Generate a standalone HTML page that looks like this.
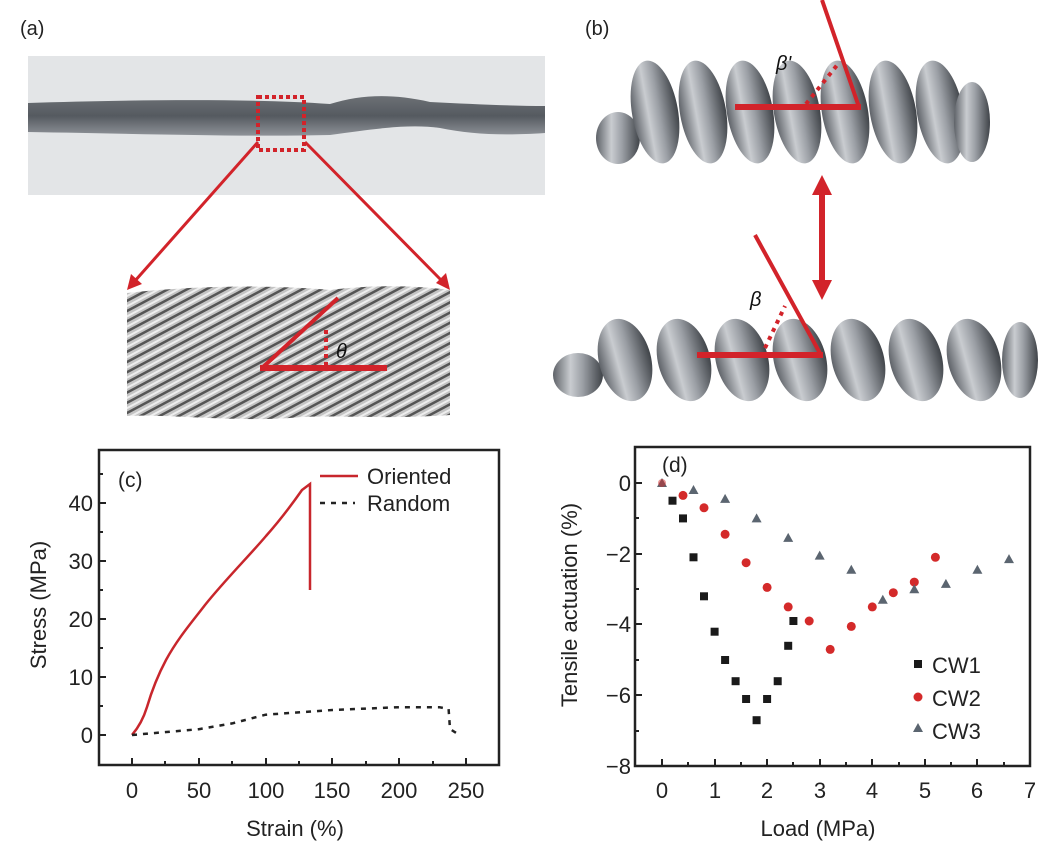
<!DOCTYPE html>
<html><head><meta charset="utf-8"><style>
html,body{margin:0;padding:0;background:#fff;}
svg{display:block;font-family:"Liberation Sans",Arial,sans-serif;}
</style></head><body>
<svg width="1050" height="858" viewBox="0 0 1050 858" xmlns="http://www.w3.org/2000/svg">
<defs>
<pattern id="fib" width="9" height="9" patternUnits="userSpaceOnUse" patternTransform="rotate(-28)">
<rect width="9" height="9" fill="#c4c4c4"/>
<rect width="9" height="2.5" fill="#555"/>
<rect y="5" width="9" height="2" fill="#eeeeee"/>
</pattern>
<linearGradient id="coil" x1="0" x2="1" y1="0" y2="0">
<stop offset="0" stop-color="#5e6268"/><stop offset="0.35" stop-color="#c9ccd0"/><stop offset="0.6" stop-color="#9a9ea4"/><stop offset="1" stop-color="#3f4348"/>
</linearGradient>
<linearGradient id="rope" x1="0" x2="0" y1="0" y2="1">
<stop offset="0" stop-color="#6c7075"/><stop offset="0.5" stop-color="#555a60"/><stop offset="1" stop-color="#8e9298"/>
</linearGradient>
<path id="tri" d="M0,-5 L5,4 L-5,4 Z" fill="#5b6570"/>
</defs>

<!-- (a) -->
<text x="20" y="35" font-size="20" fill="#222">(a)</text>
<rect x="28" y="56" width="517" height="139" fill="#e3e5e7"/>
<path d="M28,103 C120,100 250,98 330,104 C360,95 390,93 430,102 C470,104 510,106 545,106 L545,133 C500,136 470,134 440,128 C410,124 380,128 330,135 C250,137 150,134 28,132 Z" fill="url(#rope)"/>
<rect x="258" y="97" width="46" height="53" fill="none" stroke="#d2232a" stroke-width="4" stroke-dasharray="4,3"/>
<line x1="258" y1="142" x2="134" y2="282" stroke="#d2232a" stroke-width="3"/>
<polygon points="127,290 131,274 142,284" fill="#d2232a"/>
<line x1="305" y1="142" x2="443" y2="282" stroke="#d2232a" stroke-width="3"/>
<polygon points="450,290 436,283 446,273" fill="#d2232a"/>
<path d="M127,293 C200,285 280,285 330,290 C380,284 420,286 450,290 L450,415 C380,420 330,414 290,418 C230,422 170,414 127,416 Z" fill="url(#fib)"/>
<line x1="260" y1="368" x2="387" y2="368" stroke="#d2232a" stroke-width="6"/>
<line x1="262" y1="368" x2="338" y2="298" stroke="#d2232a" stroke-width="4"/>
<line x1="326" y1="366" x2="326" y2="328" stroke="#d2232a" stroke-width="4" stroke-dasharray="4,4"/>
<text x="336" y="358" font-size="20" font-style="italic" fill="#111">θ</text>

<!-- (b) -->
<text x="585" y="35" font-size="20" fill="#222">(b)</text>
<g>
<ellipse cx="618" cy="138" rx="22" ry="26" fill="url(#coil)"/>
<g fill="url(#coil)">
<ellipse cx="655" cy="112" rx="23" ry="52" transform="rotate(-10 655 112)"/><ellipse cx="703" cy="112" rx="23" ry="52" transform="rotate(-10 703 112)"/>
<ellipse cx="750" cy="112" rx="23" ry="52" transform="rotate(-10 750 112)"/><ellipse cx="797" cy="112" rx="23" ry="52" transform="rotate(-10 797 112)"/>
<ellipse cx="845" cy="112" rx="23" ry="52" transform="rotate(-10 845 112)"/><ellipse cx="893" cy="112" rx="23" ry="52" transform="rotate(-10 893 112)"/>
<ellipse cx="940" cy="112" rx="23" ry="52" transform="rotate(-10 940 112)"/><ellipse cx="972" cy="122" rx="18" ry="40"/>
</g>
</g>
<line x1="735" y1="107" x2="861" y2="107" stroke="#d2232a" stroke-width="6"/>
<line x1="859" y1="107" x2="822" y2="0" stroke="#d2232a" stroke-width="4"/>
<line x1="806" y1="104" x2="838" y2="64" stroke="#d2232a" stroke-width="4" stroke-dasharray="4,5"/>
<text x="776" y="70" font-size="20" font-style="italic" fill="#111">β'</text>
<line x1="822" y1="190" x2="822" y2="285" stroke="#d2232a" stroke-width="6"/>
<polygon points="822,175 812,195 832,195" fill="#d2232a"/>
<polygon points="822,300 812,280 832,280" fill="#d2232a"/>
<g fill="url(#coil)">
<ellipse cx="578" cy="375" rx="25" ry="22"/>
<ellipse cx="625" cy="360" rx="26" ry="42" transform="rotate(-15 625 360)"/><ellipse cx="684" cy="360" rx="26" ry="42" transform="rotate(-15 684 360)"/>
<ellipse cx="742" cy="360" rx="26" ry="42" transform="rotate(-15 742 360)"/><ellipse cx="800" cy="360" rx="26" ry="42" transform="rotate(-15 800 360)"/>
<ellipse cx="858" cy="360" rx="26" ry="42" transform="rotate(-15 858 360)"/><ellipse cx="916" cy="360" rx="26" ry="42" transform="rotate(-15 916 360)"/>
<ellipse cx="974" cy="360" rx="26" ry="42" transform="rotate(-15 974 360)"/><ellipse cx="1020" cy="360" rx="18" ry="38"/>
</g>
<line x1="697" y1="355" x2="823" y2="355" stroke="#d2232a" stroke-width="6"/>
<line x1="821" y1="355" x2="755" y2="235" stroke="#d2232a" stroke-width="4"/>
<line x1="765" y1="348" x2="785" y2="306" stroke="#d2232a" stroke-width="4" stroke-dasharray="4,5"/>
<text x="750" y="306" font-size="20" font-style="italic" fill="#111">β</text>

<!-- (c) -->
<rect x="99" y="450" width="400" height="315" fill="none" stroke="#222" stroke-width="2.5"/>
<g stroke="#222" stroke-width="2">
<line x1="99" y1="735" x2="106" y2="735"/><line x1="99" y1="677" x2="106" y2="677"/><line x1="99" y1="619" x2="106" y2="619"/><line x1="99" y1="561" x2="106" y2="561"/><line x1="99" y1="503" x2="106" y2="503"/>
<line x1="99" y1="706" x2="103" y2="706"/><line x1="99" y1="648" x2="103" y2="648"/><line x1="99" y1="590" x2="103" y2="590"/><line x1="99" y1="532" x2="103" y2="532"/><line x1="99" y1="474" x2="103" y2="474"/>
<line x1="132" y1="765" x2="132" y2="758"/><line x1="199" y1="765" x2="199" y2="758"/><line x1="266" y1="765" x2="266" y2="758"/><line x1="332" y1="765" x2="332" y2="758"/><line x1="399" y1="765" x2="399" y2="758"/><line x1="466" y1="765" x2="466" y2="758"/>
<line x1="165" y1="765" x2="165" y2="761"/><line x1="232" y1="765" x2="232" y2="761"/><line x1="299" y1="765" x2="299" y2="761"/><line x1="366" y1="765" x2="366" y2="761"/><line x1="433" y1="765" x2="433" y2="761"/>
</g>
<g font-size="22" fill="#222" text-anchor="end">
<text x="93" y="743">0</text><text x="93" y="685">10</text><text x="93" y="627">20</text><text x="93" y="569">30</text><text x="93" y="511">40</text>
</g>
<g font-size="22" fill="#222" text-anchor="middle">
<text x="132" y="798">0</text><text x="199" y="798">50</text><text x="266" y="798">100</text><text x="332" y="798">150</text><text x="399" y="798">200</text><text x="466" y="798">250</text>
<text x="295" y="836">Strain (%)</text>
<text transform="translate(46,605) rotate(-90)">Stress (MPa)</text>
</g>
<text x="118" y="487" font-size="21" fill="#222">(c)</text>
<line x1="320" y1="476" x2="358" y2="476" stroke="#c8262c" stroke-width="2.5"/>
<text x="367" y="484" font-size="22" fill="#222">Oriented</text>
<line x1="320" y1="503" x2="355" y2="503" stroke="#222" stroke-width="2.5" stroke-dasharray="5,6"/>
<text x="367" y="511" font-size="22" fill="#222">Random</text>
<path d="M132,735 C138,728 143,720 147,707 C152,690 158,675 166,660 C178,638 192,622 205,605 C225,580 250,555 266,536 C282,518 295,500 302,490 L310,484 L310,590" fill="none" stroke="#c8262c" stroke-width="2.5"/>
<polyline points="132,735 198.8,729.2 232.2,723.4 265.6,714.7 332.4,710 399.2,707.2 439.3,707.2 448.6,709 450,729 459.3,735" fill="none" stroke="#222" stroke-width="2.5" stroke-dasharray="5,6"/>

<!-- (d) -->
<rect x="635" y="447" width="395" height="319" fill="none" stroke="#222" stroke-width="2.5"/>
<g stroke="#222" stroke-width="2">
<line x1="635" y1="483" x2="642" y2="483"/><line x1="635" y1="554" x2="642" y2="554"/><line x1="635" y1="624" x2="642" y2="624"/><line x1="635" y1="695" x2="642" y2="695"/>
<line x1="635" y1="518" x2="639" y2="518"/><line x1="635" y1="589" x2="639" y2="589"/><line x1="635" y1="660" x2="639" y2="660"/><line x1="635" y1="731" x2="639" y2="731"/>
<line x1="662" y1="766" x2="662" y2="759"/><line x1="715" y1="766" x2="715" y2="759"/><line x1="767" y1="766" x2="767" y2="759"/><line x1="820" y1="766" x2="820" y2="759"/><line x1="872" y1="766" x2="872" y2="759"/><line x1="925" y1="766" x2="925" y2="759"/><line x1="977" y1="766" x2="977" y2="759"/>
<line x1="688" y1="766" x2="688" y2="762"/><line x1="741" y1="766" x2="741" y2="762"/><line x1="793" y1="766" x2="793" y2="762"/><line x1="846" y1="766" x2="846" y2="762"/><line x1="899" y1="766" x2="899" y2="762"/><line x1="951" y1="766" x2="951" y2="762"/><line x1="1004" y1="766" x2="1004" y2="762"/>
</g>
<g font-size="22" fill="#222" text-anchor="end">
<text x="631" y="491">0</text><text x="631" y="562">−2</text><text x="631" y="632">−4</text><text x="631" y="703">−6</text><text x="631" y="774">−8</text>
</g>
<g font-size="22" fill="#222" text-anchor="middle">
<text x="662" y="798">0</text><text x="715" y="798">1</text><text x="767" y="798">2</text><text x="820" y="798">3</text><text x="872" y="798">4</text><text x="925" y="798">5</text><text x="977" y="798">6</text><text x="1030" y="798">7</text>
<text x="818" y="836">Load (MPa)</text>
<text transform="translate(577,605) rotate(-90)">Tensile actuation (%)</text>
</g>
<text x="662" y="472" font-size="21" fill="#222">(d)</text>
<g fill="#1a1a1a">
<rect x="668.5" y="496.7" width="8" height="8"/><rect x="679" y="514.4" width="8" height="8"/><rect x="689.5" y="553.3" width="8" height="8"/><rect x="700" y="592.3" width="8" height="8"/><rect x="710.6" y="627.7" width="8" height="8"/><rect x="721.1" y="656" width="8" height="8"/><rect x="731.6" y="677.2" width="8" height="8"/><rect x="742.1" y="695" width="8" height="8"/><rect x="752.6" y="716.2" width="8" height="8"/><rect x="763.1" y="695" width="8" height="8"/><rect x="773.7" y="677.2" width="8" height="8"/><rect x="784.2" y="641.8" width="8" height="8"/><rect x="789.4" y="617" width="8" height="8"/>
<rect x="914" y="660" width="8" height="8"/>
</g>
<g fill="#d42a2a">
<circle cx="683" cy="495.4" r="4.5"/><circle cx="704" cy="507.8" r="4.5"/><circle cx="725.1" cy="534.3" r="4.5"/><circle cx="746.1" cy="562.7" r="4.5"/><circle cx="767.1" cy="587.4" r="4.5"/><circle cx="788.2" cy="606.9" r="4.5"/><circle cx="809.2" cy="621" r="4.5"/><circle cx="830.2" cy="649.4" r="4.5"/><circle cx="851.3" cy="626.4" r="4.5"/><circle cx="872.3" cy="606.9" r="4.5"/><circle cx="893.3" cy="592.7" r="4.5"/><circle cx="914.3" cy="582.1" r="4.5"/><circle cx="935.4" cy="557.3" r="4.5"/>
<circle cx="918" cy="697" r="4.5"/>
</g>
<use href="#tri" x="662" y="483"/>
<circle cx="662" cy="483" r="4" fill="#d42a2a" opacity="0.5"/>
<use href="#tri" x="693.5" y="490"/><use href="#tri" x="725.1" y="498.9"/><use href="#tri" x="756.6" y="518.4"/><use href="#tri" x="788.2" y="537.9"/><use href="#tri" x="819.7" y="555.6"/><use href="#tri" x="851.3" y="569.7"/><use href="#tri" x="882.8" y="599.8"/><use href="#tri" x="914.3" y="589.2"/><use href="#tri" x="945.9" y="583.9"/><use href="#tri" x="977.4" y="569.7"/><use href="#tri" x="1009" y="559.1"/>
<use href="#tri" x="918" y="728"/>
<g font-size="22" fill="#222">
<text x="932" y="673">CW1</text><text x="932" y="706">CW2</text><text x="932" y="739">CW3</text>
</g>
</svg>
</body></html>
